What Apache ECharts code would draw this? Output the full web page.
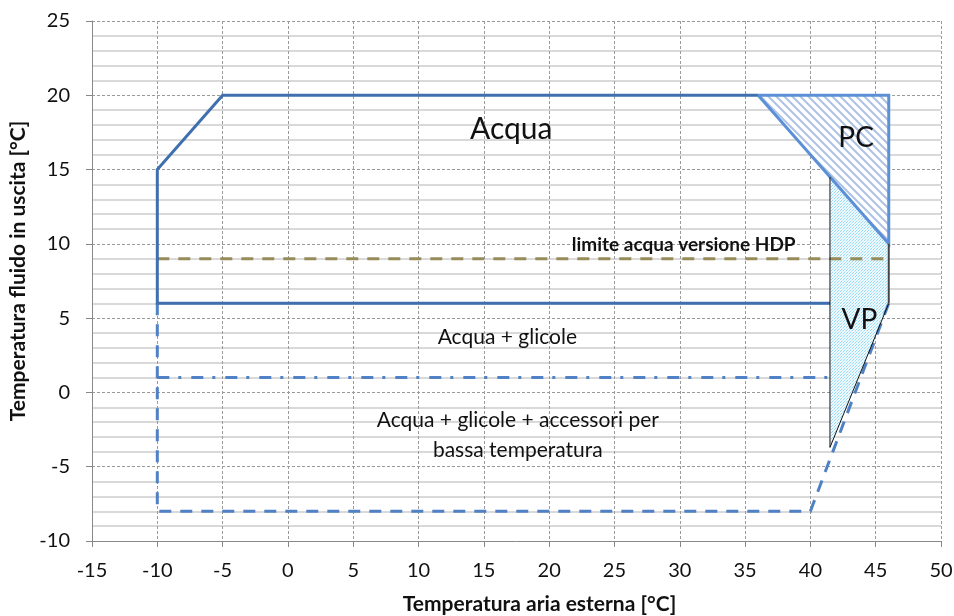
<!DOCTYPE html>
<html>
<head>
<meta charset="utf-8">
<script src="https://cdn.jsdelivr.net/npm/echarts@6/dist/echarts.min.js"></script>
<style>html,body{margin:0;padding:0;background:#fff}#c{width:954px;height:616px}</style>
</head>
<body>
<div id="c"></div>
<script>
// ---- data ----
const acquaLine = [[41.5, 6], [-10, 6], [-10, 15], [-5, 20], [36, 20]];
const pcPoly = [[36, 20], [46, 20], [46, 10]];
const vpPoly = [[41.5, 14.5], [46, 10], [46, 6], [41.5, -3.7]];
const vpEdge = [[41.5, 14.5], [41.5, -3.7], [46, 6]];
const vpRightEdge = [[46, 10], [46, 6]];
const hdpLine = [[-10, 9], [46, 9]];
const glicoleLine = [[-10, 1], [41.5, 1]];
const bassaLine = [[-10, 6], [-10, -8], [40, -8], [46, 6]];
const labels = [
  { text: 'Acqua', pos: [17.1, 17.7], size: 30, bold: false },
  { text: 'PC', pos: [43.5, 17.1], size: 28, bold: false },
  { text: 'VP', pos: [43.75, 4.9], size: 28, bold: false },
  { text: 'limite acqua versione HDP', pos: [30.3, 9.9], size: 19, bold: true },
  { text: 'Acqua + glicole', pos: [16.8, 3.7], size: 21, bold: false },
  { text: 'Acqua + glicole + accessori per\nbassa temperatura', pos: [17.6, -2.85], size: 21, bold: false }
];

// ---- patterns ----
function hatch() {
  const c = document.createElement('canvas'); c.width = 8; c.height = 8;
  const g = c.getContext('2d');
  g.fillStyle = '#ffffff'; g.fillRect(0, 0, 8, 8);
  g.strokeStyle = '#adc2e6'; g.lineWidth = 2;
  g.beginPath();
  g.moveTo(-2, -2); g.lineTo(10, 10);
  g.moveTo(-2, 6); g.lineTo(2, 10);
  g.moveTo(6, -2); g.lineTo(10, 2);
  g.stroke();
  return c;
}
function dots() {
  const c = document.createElement('canvas'); c.width = 3; c.height = 3;
  const g = c.getContext('2d');
  g.fillStyle = '#eef9fe'; g.fillRect(0, 0, 3, 3);
  g.fillStyle = '#98daf5'; g.fillRect(0, 0, 1, 1); g.fillRect(1, 2, 1, 1);
  g.fillStyle = '#c8ebfa'; g.fillRect(2, 1, 1, 1);
  return c;
}

function polySeries(points, fill, z) {
  return {
    type: 'custom', z: z, silent: true,
    data: [0],
    renderItem: function (params, api) {
      return {
        type: 'polygon',
        shape: { points: points.map(p => api.coord(p)) },
        style: { fill: fill, stroke: 'none' }
      };
    }
  };
}
function lineSeries(data, color, width, type, z) {
  return {
    type: 'line', data: data, symbol: 'none', z: z, silent: true,
    lineStyle: { color: color, width: width, type: type, cap: 'butt', join: 'miter' },
    animation: false
  };
}

const chart = echarts.init(document.getElementById('c'), null, { renderer: 'canvas' });
const font = 'Lato, "Open Sans", sans-serif';
chart.setOption({
  animation: false,
  grid: { left: 92, right: 13, top: 21, bottom: 75, containLabel: false, outerBoundsMode: 'none' },
  xAxis: {
    type: 'value', min: -15, max: 50, interval: 5,
    axisLine: { show: true, onZero: false, lineStyle: { color: '#888', width: 1 } },
    axisTick: { show: true, length: 6, lineStyle: { color: '#888' } },
    axisLabel: { color: '#111', fontSize: 20, fontFamily: font, margin: 20 },
    splitLine: { show: true, lineStyle: { color: '#9a9a9a', width: 1, type: [3, 2] } },
    name: 'Temperatura aria esterna [°C]', nameLocation: 'middle', nameGap: 53,
    nameTextStyle: { color: '#111', fontSize: 21, fontWeight: 'bold', fontFamily: font, padding: [0, 0, 0, 46] }
  },
  yAxis: {
    type: 'value', min: -10, max: 25, interval: 5,
    axisLine: { show: true, onZero: false, lineStyle: { color: '#888', width: 1 } },
    axisTick: { show: true, length: 6, lineStyle: { color: '#888' } },
    axisLabel: { color: '#111', fontSize: 20, fontFamily: font, margin: 22 },
    minorTick: { show: false, splitNumber: 5 },
    minorSplitLine: { show: true, lineStyle: { color: '#d9d9d9', width: 2 } },
    splitLine: { show: true, lineStyle: { color: '#9a9a9a', width: 1, type: [3, 2] } },
    name: 'Temperatura fluido in uscita [°C]', nameLocation: 'middle', nameGap: 60,
    nameTextStyle: { color: '#111', fontSize: 21, fontWeight: 'bold', fontFamily: font, padding: [0, 0, 0, 20] }
  },
  series: [
    polySeries(pcPoly, { image: hatch(), repeat: 'repeat' }, 2),
    polySeries(vpPoly, { image: dots(), repeat: 'repeat' }, 2),
    lineSeries(hdpLine, '#968c5a', 3, [12, 9], 3),
    lineSeries(glicoleLine, '#4f81c4', 3, [12, 9, 3, 10], 3),
    lineSeries(bassaLine, '#4f81c4', 3, [12, 9], 3),
    lineSeries(acquaLine, '#3f6fae', 3, 'solid', 4),
    lineSeries(pcPoly.concat([pcPoly[0]]), '#5b90d6', 3, 'solid', 4),
    lineSeries(vpEdge, '#111', 1, 'solid', 5),
    lineSeries(vpRightEdge, '#444', 2, 'solid', 5),
    {
      type: 'custom', z: 10, silent: true,
      data: labels.map((l, i) => i),
      renderItem: function (params, api) {
        const l = labels[params.dataIndex];
        const p = api.coord(l.pos);
        return {
          type: 'text', x: p[0], y: p[1],
          style: {
            text: l.text, fill: '#111', fontSize: l.size, fontFamily: font,
            fontWeight: l.bold ? 'bold' : 'normal', align: 'center', verticalAlign: 'middle',
            lineHeight: 30
          }
        };
      }
    }
  ]
});
</script>
</body>
</html>
